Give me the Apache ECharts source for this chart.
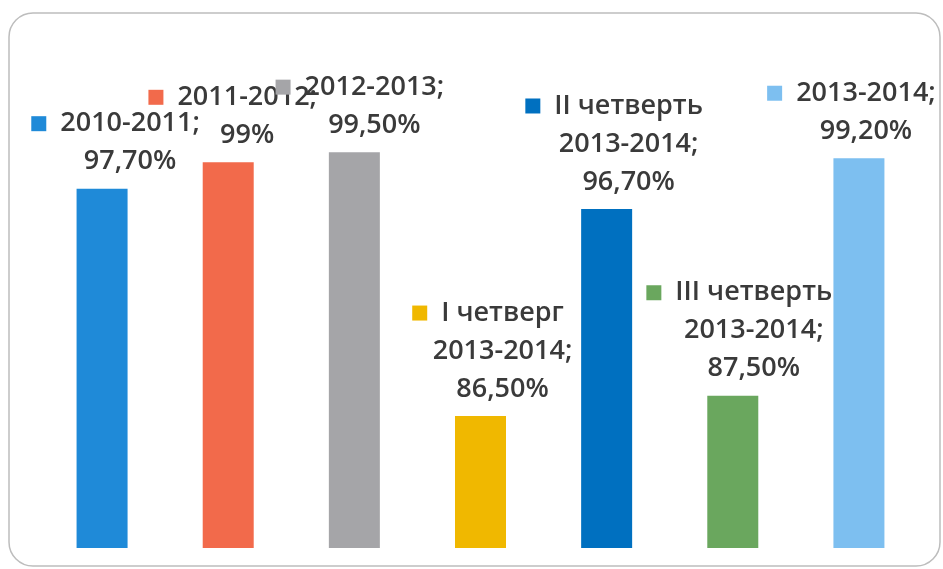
<!DOCTYPE html>
<html>
<head>
<meta charset="utf-8">
<script src="https://cdn.jsdelivr.net/npm/echarts@6/dist/echarts.min.js"></script>
<style>
  html, body { margin: 0; padding: 0; background: #fff; }
  #chart { width: 943px; height: 569px; }
</style>
</head>
<body>
<div id="chart"></div>
<script>
"use strict"
// категории (подписи в две-три строки) и значения, %
const periods = ['2010-2011;', '2011-2012;', '2012-2013;', 'I четверг\n2013-2014;', 'II четверть\n2013-2014;', 'III четверть\n2013-2014;', '2013-2014;'];
const values = [97.7, 99, 99.5, 86.5, 96.7, 87.5, 99.2];
const barColors = ['#1f8ad8', '#f26a4b', '#a5a5a8', '#f0b800', '#0070c0', '#6aa75e', '#7dbff0'];
const textColor = '#3a3a3a';
// сдвиг подписей вправо от центра столбца, px
const labelShift = [28, 19, 20, 22, 22, 21, 7];

// формат подписи как в Excel: 97,70% / 99%
function fmt(v) {
    return (Number.isInteger(v) ? String(v) : v.toFixed(2).replace('.', ',')) + '%';
}

let chart = echarts.init(document.getElementById('chart'));

// стили маркеров-ключей легенды в подписях
let rich = {
    t: { fontFamily: 'Open Sans', fontSize: 27, fontWeight: 600, color: textColor, lineHeight: 38 },
    g: { width: 14, height: 14 },
    r: { width: 29, height: 14 }
};
barColors.forEach(function (c, i) {
    rich['m' + i] = { width: 15, height: 15, backgroundColor: c };
});

let barData = values.map(function (v, i) {
    return {
        value: v,
        itemStyle: { color: barColors[i] },
        label: { offset: [labelShift[i], 0] }
    };
});

chart.setOption({
    animation: false,
    graphic: [{
        type: 'rect',
        shape: { x: 9, y: 13, width: 931, height: 553, r: 24 },
        style: { fill: 'none', stroke: '#bdbdbd', lineWidth: 1.5 },
        silent: true
    }],
    grid: { left: 39, right: 21, top: 142, bottom: 21 },
    xAxis: {
        type: 'category',
        data: periods,
        axisLine: { show: false },
        axisTick: { show: false },
        axisLabel: { show: false }
    },
    yAxis: {
        type: 'value',
        min: 80,
        max: 100,
        show: false,
        splitLine: { show: false }
    },
    series: [{
        type: 'bar',
        data: barData,
        barWidth: 51,
        label: {
            show: true,
            position: 'top',
            distance: 8,
            align: 'center',
            formatter: function (p) {
                let lines = periods[p.dataIndex].split('\n');
                lines.push(fmt(p.value));
                let out = lines.map(function (s, k) {
                    if (k === 0) return '{m' + p.dataIndex + '|}{g|}{t|' + s + '}{r|}';
                    return '{t|' + s + '}';
                });
                return out.join('\n');
            },
            rich: rich
        }
    }]
});
</script>
</body>
</html>
